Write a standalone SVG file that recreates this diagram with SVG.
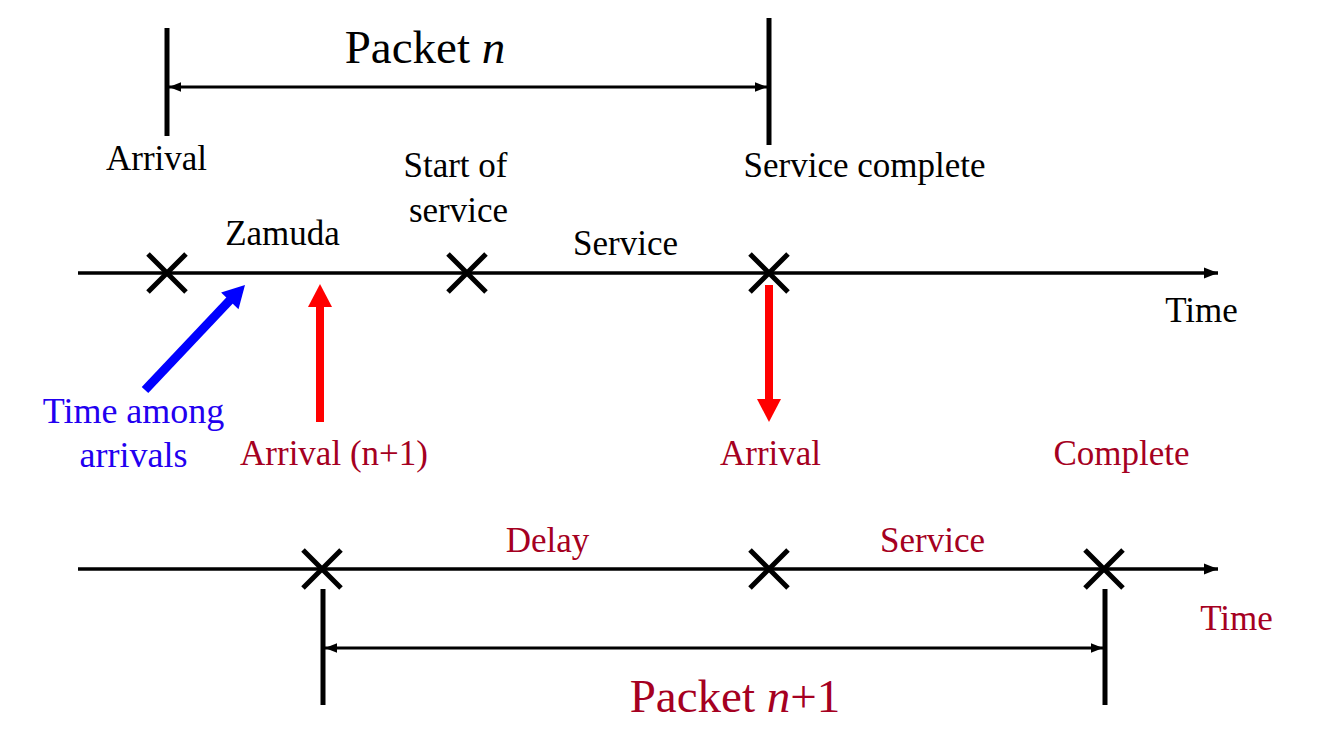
<svg xmlns="http://www.w3.org/2000/svg" width="1317" height="755" viewBox="0 0 1317 755">
<defs>
<marker id="ah" viewBox="0 0 10 10" refX="10" refY="5" markerWidth="4" markerHeight="4" orient="auto-start-reverse" markerUnits="strokeWidth"><path d="M0,1 L10,5 L0,9 Z" fill="#000"/></marker>
<path id="xm" d="M-19,-19 L19,19 M19,-19 L-19,19" stroke="#000" stroke-width="5" fill="none"/>
</defs>
<rect width="1317" height="755" fill="#fff"/>
<g id="connectors" stroke="#000" fill="none">
<line x1="78" y1="273" x2="1218" y2="273" stroke-width="3.5" marker-end="url(#ah)"/>
<line x1="78" y1="569" x2="1218" y2="569" stroke-width="3.5" marker-end="url(#ah)"/>
<line x1="167" y1="28" x2="167" y2="136" stroke-width="5"/>
<line x1="769" y1="18" x2="769" y2="145" stroke-width="5"/>
<line x1="169" y1="87" x2="767" y2="87" stroke-width="3" marker-start="url(#ah)" marker-end="url(#ah)"/>
<line x1="323" y1="589" x2="323" y2="705" stroke-width="5"/>
<line x1="1105" y1="589" x2="1105" y2="705" stroke-width="5"/>
<line x1="325" y1="648" x2="1103" y2="648" stroke-width="3" marker-start="url(#ah)" marker-end="url(#ah)"/>
<line x1="145" y1="390" x2="231" y2="299" stroke="#0000ff" stroke-width="9"/>
<polygon points="245,285 238.5,309.2 221.1,292.6" fill="#0000ff" stroke="none"/>
<line x1="320" y1="422" x2="320" y2="304" stroke="#ff0000" stroke-width="8"/>
<polygon points="320,284 308,307 332,307" fill="#ff0000" stroke="none"/>
<line x1="769" y1="285" x2="769" y2="402" stroke="#ff0000" stroke-width="8"/>
<polygon points="769,422 757,399 781,399" fill="#ff0000" stroke="none"/>
</g>
<g id="marks">
<use href="#xm" x="167" y="273"/>
<use href="#xm" x="467" y="273"/>
<use href="#xm" x="769" y="273"/>
<use href="#xm" x="322" y="569"/>
<use href="#xm" x="769" y="569"/>
<use href="#xm" x="1104" y="569"/>
</g>
<g id="packet-n">
<text x="425" y="63" fill="#000" font-family="Liberation Serif" font-size="47" text-anchor="middle">Packet <tspan font-style="italic">n</tspan></text>
</g>
<g id="labels-top" fill="#000">
<text x="156.5" y="170" font-family="Liberation Serif" font-size="35" text-anchor="middle">Arrival</text>
<text x="455.5" y="177" font-family="Liberation Serif" font-size="35" text-anchor="middle">Start of</text>
<text x="458.5" y="222" font-family="Liberation Serif" font-size="35" text-anchor="middle">service</text>
<text x="864.5" y="177" font-family="Liberation Serif" font-size="35" text-anchor="middle">Service complete</text>
<text x="282.5" y="245" font-family="Liberation Serif" font-size="35" text-anchor="middle">Zamuda</text>
<text x="625.5" y="255" font-family="Liberation Serif" font-size="35" text-anchor="middle">Service</text>
<text x="1201.5" y="322" font-family="Liberation Serif" font-size="35" text-anchor="middle">Time</text>
</g>
<g id="labels-mid">
<text x="133.5" y="423" fill="#2200f0" font-family="Liberation Serif" font-size="36" text-anchor="middle">Time among</text>
<text x="133.5" y="467" fill="#2200f0" font-family="Liberation Serif" font-size="36" text-anchor="middle">arrivals</text>
<text x="334" y="465" fill="#a50021" font-family="Liberation Serif" font-size="35" text-anchor="middle">Arrival (n+1)</text>
<text x="770.5" y="465" fill="#a50021" font-family="Liberation Serif" font-size="35" text-anchor="middle">Arrival</text>
<text x="1121.5" y="465" fill="#a50021" font-family="Liberation Serif" font-size="35" text-anchor="middle">Complete</text>
</g>
<g id="labels-bottom" fill="#a50021">
<text x="547.5" y="552" font-family="Liberation Serif" font-size="35" text-anchor="middle">Delay</text>
<text x="932.5" y="552" font-family="Liberation Serif" font-size="35" text-anchor="middle">Service</text>
<text x="1236.5" y="630" font-family="Liberation Serif" font-size="35" text-anchor="middle">Time</text>
</g>
<g id="packet-n1">
<text x="735" y="712" fill="#a50021" font-family="Liberation Serif" font-size="47" text-anchor="middle">Packet <tspan font-style="italic">n</tspan>+1</text>
</g>
</svg>
